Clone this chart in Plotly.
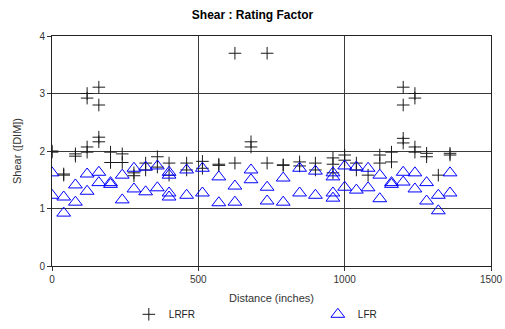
import plotly.graph_objects as go

# LRFR (cross markers)
lrfr_x = [0, 0, 40, 40, 80, 80,
          120, 120, 120, 120, 160, 160, 160, 160,
          200, 200, 240, 240, 280, 280, 320, 320, 360, 360, 400, 400,
          460, 460, 514, 514, 570, 570, 625, 625, 680, 680, 735, 735,
          790, 790, 846, 846, 900, 900, 960, 960, 960,
          1000, 1000, 1040, 1040, 1080, 1120, 1120, 1160, 1160,
          1200, 1200, 1200, 1200, 1240, 1240, 1240, 1240,
          1280, 1280, 1320, 1360, 1360]
lrfr_y = [2.0, 1.98, 1.6, 1.58, 1.95, 1.91,
          3.0, 2.92, 2.07, 1.98, 3.11, 2.8, 2.24, 2.16,
          1.98, 1.8, 1.95, 1.8, 1.62, 1.57, 1.79, 1.67, 1.9, 1.72, 1.79, 1.58,
          1.79, 1.67, 1.82, 1.7, 1.77, 1.75, 3.7, 1.79, 2.16, 2.07, 3.7, 1.79,
          1.76, 1.75, 1.81, 1.74, 1.79, 1.67, 1.88, 1.77, 1.62,
          1.93, 1.84, 1.79, 1.67, 1.58, 1.93, 1.79, 1.98, 1.81,
          3.11, 2.8, 2.22, 2.14, 3.0, 2.92, 2.07, 1.98,
          1.96, 1.9, 1.58, 1.96, 1.93]

# LFR (triangle markers)
lfr_x = [0, 0, 40, 40, 80, 80, 120, 120, 160, 160, 200, 200, 240, 240,
         280, 280, 320, 320, 360, 360, 400, 400, 400, 400,
         460, 460, 514, 514, 570, 570, 625, 625, 680, 680, 735, 735,
         790, 790, 846, 846, 900, 900, 960, 960, 960, 960,
         1000, 1000, 1040, 1040, 1080, 1080, 1120, 1120, 1160, 1160,
         1200, 1200, 1240, 1240, 1280, 1280, 1320, 1320, 1360, 1360]
lfr_y = [1.62, 1.23, 1.2, 0.92, 1.41, 1.11, 1.6, 1.3, 1.63, 1.45, 1.45, 1.42, 1.58, 1.15,
         1.7, 1.34, 1.72, 1.29, 1.74, 1.36, 1.63, 1.58, 1.27, 1.2,
         1.67, 1.23, 1.7, 1.27, 1.55, 1.1, 1.39, 1.11, 1.67, 1.5, 1.37, 1.13,
         1.53, 1.11, 1.7, 1.27, 1.65, 1.23, 1.62, 1.55, 1.27, 1.18,
         1.74, 1.37, 1.72, 1.32, 1.7, 1.36, 1.58, 1.17, 1.45, 1.42,
         1.63, 1.46, 1.62, 1.34, 1.45, 1.13, 1.23, 0.96, 1.62, 1.27]

x_ticks = [0, 500, 1000, 1500]
y_ticks = [0, 1, 2, 3, 4]

FONT = "Liberation Sans, Arial, sans-serif"

fig = go.Figure()
fig.add_trace(go.Scatter(
    x=lrfr_x, y=lrfr_y, mode="markers", name="LRFR",
    marker=dict(symbol="cross-thin", size=9, color="#1a1a1a",
                line=dict(width=1, color="#1a1a1a")),
))
fig.add_trace(go.Scatter(
    x=lfr_x, y=lfr_y, mode="markers", name="LFR",
    marker=dict(symbol="triangle-up-open", size=12, color="#0000ff",
                line=dict(width=1, color="#0000ff")),
))

fig.update_layout(
    width=505, height=329,
    margin=dict(l=52, r=14, t=36, b=63, autoexpand=False),
    paper_bgcolor="white", plot_bgcolor="white",
    font=dict(family=FONT, size=10, color="#333333"),
    title=dict(text="<b>Shear : Rating Factor</b>", x=0.5, xanchor="center",
               y=0.955, yanchor="middle", font=dict(family=FONT, size=12, color="#000")),
    showlegend=True,
    legend=dict(orientation="h", x=0.175, xanchor="left", y=-0.21, yanchor="middle",
                entrywidth=144, entrywidthmode="pixels",
                font=dict(family=FONT, size=10, color="#222"),
                itemwidth=30, tracegroupgap=0, bgcolor="rgba(0,0,0,0)"),
    xaxis=dict(range=[0, 1500], tickvals=x_ticks, ticks="outside", ticklen=4,
               tickcolor="#333", showline=True, linecolor="#222", linewidth=1,
               mirror=True, showgrid=True, gridcolor="#3a3a3a", gridwidth=1,
               zeroline=False, automargin=False,
               title=dict(text="Distance (inches)", standoff=10,
                          font=dict(size=11, color="#333")),
               tickfont=dict(size=10, color="#333")),
    yaxis=dict(range=[0, 4], tickvals=y_ticks, ticks="outside", ticklen=4,
               tickcolor="#333", showline=True, linecolor="#222", linewidth=1,
               mirror=True, showgrid=True, gridcolor="#3a3a3a", gridwidth=1,
               zeroline=False, automargin=False,
               title=dict(text="Shear ([DIM])", standoff=15,
                          font=dict(size=11, color="#333")),
               tickfont=dict(size=10, color="#333")),
)

# remove the browser's default 8px page margin so the figure fills the window
fig.write_html("out.html",
               config={"displayModeBar": False},
               post_script="document.body.style.margin='0';document.body.style.overflow='hidden';")
